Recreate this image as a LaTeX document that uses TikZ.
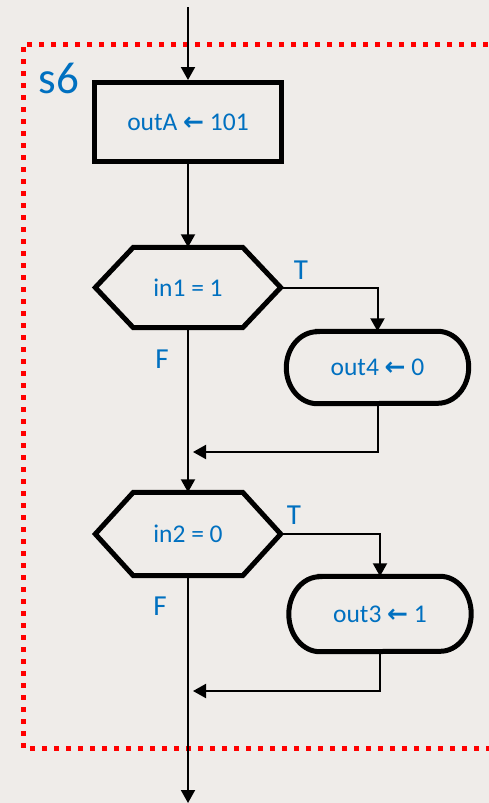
\documentclass[tikz,border=0pt]{standalone}
\usepackage{fontspec}
\setmainfont{Carlito}
\newfontfamily\arrfont{DejaVu Sans}
\usetikzlibrary{arrows.meta,calc}
\definecolor{bgc}{RGB}{239,236,233}
\definecolor{txtblue}{RGB}{0,112,192}
\definecolor{dotred}{RGB}{255,0,0}
\tikzset{
  lbl/.style={text=txtblue,font=\fontsize{25.5}{28}\selectfont,inner sep=0pt},
  tf/.style={text=txtblue,font=\fontsize{29}{32}\selectfont,inner sep=0pt},
  procbox/.style={draw=black,line width=5pt,rectangle,minimum width=187pt,minimum height=79pt,inner sep=0pt,lbl},
  outbox/.style={rectangle,minimum width=182pt,inner sep=0pt,lbl},
  decbox/.style={rectangle,minimum width=185pt,inner sep=0pt,lbl},
  hexline/.style={draw=black,line width=5pt,line join=miter},
  flow/.style={draw=black,line width=2pt,-{Triangle[length=13pt,width=14pt]}},
  stateborder/.style={draw=dotred,line width=5pt,dash pattern=on 5pt off 7pt}
}
\newcommand{\la}{{\arrfont\bfseries\fontsize{25}{28}\selectfont ←}}
\begin{document}
\begin{tikzpicture}[x=1pt,y=-1pt]
\fill[bgc] (0,0) rectangle (489,803);
\useasboundingbox (0,0) rectangle (489,803);
% state border
\draw[stateborder] (500,44) -- (23,44) -- (23,748) -- (500,748);
\node[text=txtblue,font=\fontsize{45}{50}\selectfont,inner sep=0pt] (s6) at (59,78) {s6};
% nodes
\coordinate (top) at (188,7);
\node[procbox] (outA) at (188,122) {outA \la{} 101};
\node[decbox,minimum height=80pt] (d1) at (188,287.5) {in1 = 1};
\node[outbox,minimum height=72pt] (out4) at (377.5,367.5) {out4 \la{} 0};
\node[decbox,minimum height=83pt] (d2) at (188,534) {in2 = 0};
\node[outbox,minimum height=75pt] (out3) at (380,614) {out3 \la{} 1};
% hexagons
\draw[hexline] ([xshift=38pt]d1.north west) -- ([xshift=-38pt]d1.north east) -- (d1.east) -- ([xshift=-38pt]d1.south east) -- ([xshift=38pt]d1.south west) -- (d1.west) -- cycle;
\draw[hexline] ([xshift=38pt]d2.north west) -- ([xshift=-38pt]d2.north east) -- (d2.east) -- ([xshift=-38pt]d2.south east) -- ([xshift=38pt]d2.south west) -- (d2.west) -- cycle;
% terminal outlines with rounded ends
\draw[hexline] ([xshift=31pt]out4.north west) -- ([xshift=-31pt]out4.north east)
  arc[start angle=90,end angle=-90,x radius=31pt,y radius=36pt]
  -- ([xshift=31pt]out4.south west)
  arc[start angle=270,end angle=90,x radius=31pt,y radius=36pt] -- cycle;
\draw[hexline] ([xshift=31pt]out3.north west) -- ([xshift=-31pt]out3.north east)
  arc[start angle=90,end angle=-90,x radius=31pt,y radius=37.5pt]
  -- ([xshift=31pt]out3.south west)
  arc[start angle=270,end angle=90,x radius=31pt,y radius=37.5pt] -- cycle;
% labels
\node[tf] (t1) at (301,270) {T};
\node[tf] (f1) at (162,359) {F};
\node[tf] (t2) at (294,515) {T};
\node[tf] (f2) at (160,606) {F};
% merge points
\coordinate (m1) at (193,452);
\coordinate (m2) at (193,691);
\coordinate (bot) at (188,803);
% connectors
\draw[flow] (top) -- (outA.north);
\draw[flow] (outA.south) -- (d1.north);
\draw[flow] (d1.east) -| (out4.north);
\draw[flow] (d1.south) -- (d2.north);
\draw[flow] (out4.south) |- (m1);
\draw[flow] (d2.east) -| (out3.north);
\draw[flow] (out3.south) |- (m2);
\draw[flow] (d2.south) -- (bot);
\end{tikzpicture}
\end{document}
